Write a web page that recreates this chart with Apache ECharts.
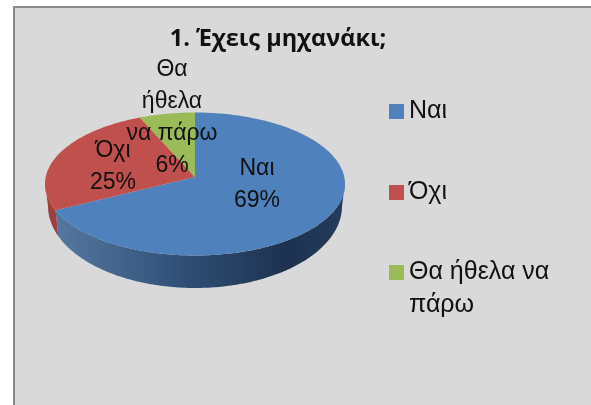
<!DOCTYPE html>
<html>
<head>
<meta charset="utf-8">
<style>
  html, body { margin: 0; height: 100%; background: #fff; overflow: hidden; }
  #frame { position: absolute; left: 13px; top: 6px; width: 600px; height: 420px; background: #d9d9d9; border: 2px solid #8a8a8a; }
  #chart { position: absolute; left: 0; top: 0; width: 591px; height: 405px; }
</style>
<script src="https://cdn.jsdelivr.net/npm/echarts@6/dist/echarts.min.js"></script>
</head>
<body>
<div id="frame"></div>
<div id="chart"></div>
<script>
const titleText = '1. Έχεις μηχανάκι;'
const categories = ['Ναι', 'Όχι', 'Θα ήθελα να\nπάρω']
const values = [69, 25, 6]
const sliceColors = ['#4f81bd', '#c0504d', '#9bbb59']
const sliceLabels = ['Ναι\n69%', 'Όχι\n25%', 'Θα\nήθελα\nνα πάρω\n6%']

// σχεδίαση της "τρισδιάστατης" πίτας
const labelPos = [[257, 185], [113, 167], [172, 118]]
const legendTop = [95, 176, 223]
const wallColors = [
  { type: 'linear', x: 0, y: 0, x2: 1, y2: 0, colorStops: [
    { offset: 0, color: '#55789f' },
    { offset: 0.45, color: '#2f4e75' },
    { offset: 0.8, color: '#1d3250' },
    { offset: 1, color: '#243c5c' }
  ] },
  '#9c3f3d',
  '#7c9548'
]
const topRim = { cx: 195, cy: 184, rx: 150, ry: 71.5 }
const bottomRim = { cx: 195, cy: 206, rx: 147, ry: 82 }
const apex = [195, 177]

function rim (e, deg) {
  const t = deg * Math.PI / 180
  return [e.cx + e.rx * Math.sin(t), e.cy - e.ry * Math.cos(t)]
}

function arc (e, from, to) {
  const pts = []
  const n = Math.max(2, Math.ceil(Math.abs(to - from)))
  for (let i = 0; i <= n; i++) pts.push(rim(e, from + (to - from) * i / n))
  return pts
}

function renderSlice (params, api) {
  const i = params.seriesIndex
  const start = api.value(1) * 3.6
  const end = start + api.value(0) * 3.6
  const children = []
  // πλευρικό τοίχωμα: μόνο το μπροστινό μισό (90-270 μοίρες)
  const wallFrom = Math.max(start, 90)
  const wallTo = Math.min(end, 270)
  if (wallTo > wallFrom) {
    children.push({
      type: 'polygon',
      z2: 1,
      shape: { points: arc(topRim, wallFrom, wallTo).concat(arc(bottomRim, wallTo, wallFrom)) },
      style: { fill: wallColors[i] }
    })
  }
  children.push({
    type: 'polygon',
    z2: 2,
    shape: { points: [apex].concat(arc(topRim, start, end)) },
    style: { fill: sliceColors[i] }
  })
  children.push({
    type: 'text',
    z2: 10,
    x: labelPos[i][0],
    y: labelPos[i][1],
    style: {
      text: sliceLabels[i],
      fill: '#111',
      font: '23px "Liberation Sans"',
      lineHeight: 32,
      align: 'center',
      verticalAlign: 'middle'
    }
  })
  return { type: 'group', children }
}

let sum = 0
const series = categories.map((name, i) => {
  const s = {
    type: 'custom',
    name,
    coordinateSystem: 'none',
    renderItem: renderSlice,
    itemStyle: { color: sliceColors[i] },
    data: [[values[i], sum]]
  }
  sum += values[i]
  return s
})

const chart = echarts.init(document.getElementById('chart'))
chart.setOption({
  animation: false,
  color: sliceColors,
  title: {
    text: titleText,
    left: 273,
    top: 22,
    textAlign: 'center',
    textStyle: { fontFamily: 'Open Sans', fontWeight: 'bold', fontSize: 23.5, color: '#111' }
  },
  legend: categories.map((name, i) => ({
    data: [name],
    left: 389,
    top: legendTop[i],
    icon: 'rect',
    itemWidth: 15,
    itemHeight: 15,
    itemGap: 0,
    padding: 0,
    selectedMode: false,
    // η κενή γραμμή κρατά το τετραγωνάκι στο ύψος της πρώτης γραμμής
    formatter: i === 2 ? '\n{name}' : '{name}',
    textStyle: {
      fontFamily: 'Liberation Sans',
      fontSize: 25,
      lineHeight: 33,
      color: '#111'
    }
  })),
  series
})
</script>
</body>
</html>
